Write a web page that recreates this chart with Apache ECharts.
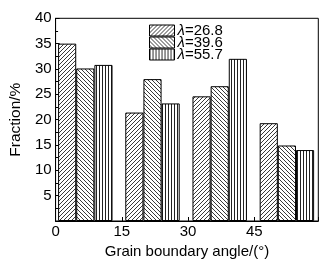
<!DOCTYPE html>
<html><head><meta charset="utf-8">
<script src="https://cdn.jsdelivr.net/npm/echarts@6/dist/echarts.min.js"></script>
<style>html,body{margin:0;padding:0;background:#fff}#c{width:335px;height:265px}</style>
</head><body><div id="c"></div>
<script>
const categories = ['0-15', '15-30', '30-45', '45-60'];
const seriesNames = ['26.8', '39.6', '55.7'];
const s1 = [35.0, 21.4, 24.6, 19.3];
const s2 = [30.1, 28.0, 26.6, 14.9];
const s3 = [30.8, 23.2, 32.0, 14.0];
const xTicks = [0, 15, 30, 45];
const yTicks = [5, 10, 15, 20, 25, 30, 35, 40];

function pattern(kind) {
  const c = document.createElement('canvas');
  const ctx = c.getContext('2d');
  if (kind === 'v') {
    c.width = 3; c.height = 3;
    ctx.fillStyle = '#fff'; ctx.fillRect(0, 0, 3, 3);
    ctx.fillStyle = '#222'; ctx.fillRect(0, 0, 1, 3);
  } else {
    c.width = 4; c.height = 4;
    ctx.fillStyle = '#fff'; ctx.fillRect(0, 0, 4, 4);
    ctx.strokeStyle = '#222'; ctx.lineWidth = 0.9;
    ctx.beginPath();
    if (kind === 'f') {
      ctx.moveTo(-1, 5); ctx.lineTo(5, -1);
      ctx.moveTo(-1, 1); ctx.lineTo(1, -1);
      ctx.moveTo(3, 5); ctx.lineTo(5, 3);
    } else {
      ctx.moveTo(-1, -1); ctx.lineTo(5, 5);
      ctx.moveTo(3, -1); ctx.lineTo(5, 1);
      ctx.moveTo(-1, 3); ctx.lineTo(1, 5);
    }
    ctx.stroke();
  }
  return { image: c, repeat: 'repeat' };
}
const pats = [pattern('f'), pattern('b'), pattern('v')];
const datas = [s1, s2, s3];
const font = 'Liberation Sans, Arial, Helvetica, sans-serif';

const chart = echarts.init(document.getElementById('c'), null, { renderer: 'canvas' });
chart.setOption({
  animation: false,
  backgroundColor: '#fff',
  textStyle: { fontFamily: font },
  grid: [
    { left: 51.7, top: 18.3, width: 266.6, height: 202.7, show: true, borderColor: '#000', borderWidth: 1, backgroundColor: 'transparent' },
    { left: 51.7, top: 18.3, width: 268.8, height: 202.7 }
  ],
  legend: {
    orient: 'vertical', left: 149, top: 23, padding: 0,
    itemWidth: 25, itemHeight: 11, itemGap: -3,
    icon: 'rect',
    data: seriesNames,
    formatter: n => '{i|λ}=' + n,
    textStyle: {
      fontFamily: font, fontSize: 15, color: '#000', lineHeight: 11, padding: [0, 0, 0, -2],
      rich: { i: { fontStyle: 'italic', fontSize: 15, fontFamily: font, color: '#000', lineHeight: 11 } }
    },
    itemStyle: { borderColor: '#000', borderWidth: 1 }
  },
  xAxis: [
    {
      gridIndex: 0, type: 'value', min: 0, max: 59.5, interval: 15,
      name: 'Grain boundary angle/(°)', nameLocation: 'middle', nameGap: 18,
      nameTextStyle: { fontSize: 15, color: '#000', fontFamily: font },
      axisLine: { lineStyle: { color: '#000', width: 1 } },
      axisTick: { inside: true, length: 4, lineStyle: { color: '#000' } },
      minorTick: { show: true, splitNumber: 2, length: 2.5, lineStyle: { color: '#000' } },
      axisLabel: { fontSize: 15, color: '#000', margin: 3, fontFamily: font,
        formatter: v => xTicks.includes(v) ? String(v) : '' },
      splitLine: { show: false }
    },
    {
      gridIndex: 1, type: 'category', data: categories, show: false
    }
  ],
  yAxis: [
    {
      gridIndex: 0, type: 'value', min: 0, max: 40, interval: 5,
      name: 'Fraction/%', nameLocation: 'middle', nameGap: 29,
      nameTextStyle: { fontSize: 15.5, color: '#000', fontFamily: font },
      axisLine: { show: true, lineStyle: { color: '#000', width: 1 } },
      axisTick: { inside: true, length: 4, lineStyle: { color: '#000' } },
      minorTick: { show: true, splitNumber: 2, length: 2.5, lineStyle: { color: '#000' } },
      axisLabel: { fontSize: 15, color: '#000', margin: 4, fontFamily: font,
        formatter: v => yTicks.includes(v) ? String(v) : '' },
      splitLine: { show: false }
    },
    { gridIndex: 1, type: 'value', min: 0, max: 40, show: false }
  ],
  series: seriesNames.map((n, i) => ({
    name: n, type: 'bar', xAxisIndex: 1, yAxisIndex: 1,
    data: datas[i], barGap: '0%', barCategoryGap: '19%',
    itemStyle: { color: pats[i], borderColor: '#000', borderWidth: 1 },
    emphasis: { disabled: true }
  }))
});
</script></body></html>
